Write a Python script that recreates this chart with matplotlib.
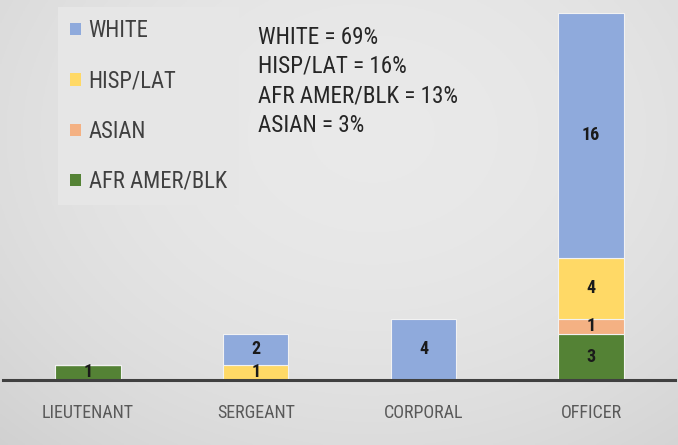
import matplotlib
matplotlib.use("Agg")
import matplotlib.pyplot as plt
from matplotlib import font_manager
import numpy as np

# pick a narrow sans family if one is installed
_names = {f.name for f in font_manager.fontManager.ttflist}
for _font in ("Roboto Condensed", "Liberation Sans Narrow", "Open Sans Condensed", "Liberation Sans"):
    if _font in _names:
        plt.rcParams["font.family"] = [_font, "DejaVu Sans"]
        break

# ── Data ──────────────────────────────────────────────────────────────────────
ranks = ["LIEUTENANT", "SERGEANT", "CORPORAL", "OFFICER"]
afr_amer_blk = [1, 0, 0, 3]
asian = [0, 0, 0, 1]
hisp_lat = [0, 1, 0, 4]
white = [0, 2, 4, 16]

series = [
    ("AFR AMER/BLK", afr_amer_blk, "#548235"),
    ("ASIAN", asian, "#F4B183"),
    ("HISP/LAT", hisp_lat, "#FFD966"),
    ("WHITE", white, "#8FAADC"),
]
share_text = ["WHITE = 69%", "HISP/LAT = 16%", "AFR AMER/BLK = 13%", "ASIAN = 3%"]

# ── Figure ────────────────────────────────────────────────────────────────────
W, H = 678, 445
fig = plt.figure(figsize=(W / 100, H / 100), dpi=100)
fig.patch.set_facecolor("#d8d8d8")

# soft light-grey radial gradient behind everything
bg = fig.add_axes([0, 0, 1, 1], zorder=-10)
yy, xx = np.mgrid[0:1:200j, 0:1:300j]
r2 = ((xx - 0.55) / 0.75) ** 2 + ((yy - 0.3) / 0.9) ** 2
g = np.clip(0.915 - 0.085 * r2, 0.80, 0.93)
bg.imshow(np.dstack([g, g, g]), aspect="auto", extent=(0, 1, 0, 1), origin="upper")
bg.axis("off")

ax = fig.add_axes([3 / W, 65 / H, 672 / W, 380 / H])
ax.set_facecolor("none")

x = np.arange(len(ranks))
bottom = np.zeros(len(ranks))
handles = {}
for name, vals, color in series:
    vals = np.array(vals, dtype=float)
    bars = ax.bar(x, vals, 0.39, bottom=bottom, color=color,
                  edgecolor="#f2f2f2", linewidth=0.8, label=name, zorder=2)
    handles[name] = bars
    for xi, b, v in zip(x, bottom, vals):
        if v > 0:
            ax.text(xi, b + v / 2, f"{int(v)}", ha="center", va="center",
                    fontsize=13, fontweight="bold", color="#1a1a1a", zorder=4)
    bottom += vals

ax.set_xlim(-0.507, 3.5)
ax.set_ylim(0, 24.84)
ax.set_xticks(x)
ax.set_xticklabels(ranks, fontsize=13, color="#595959")
ax.set_yticks([])
ax.tick_params(axis="x", length=0, pad=17)
for s in ("top", "right", "left"):
    ax.spines[s].set_visible(False)
ax.spines["bottom"].set_color("#404040")
ax.spines["bottom"].set_linewidth(2.2)
ax.spines["bottom"].set_zorder(3)

order = ["WHITE", "HISP/LAT", "ASIAN", "AFR AMER/BLK"]
leg = ax.legend([handles[n] for n in order], order,
                loc="upper left", bbox_to_anchor=(58 / W, 1 - 7 / H),
                bbox_transform=fig.transFigure, frameon=True, fancybox=False,
                facecolor="#e6e6e6", edgecolor="none", framealpha=1,
                fontsize=16.3, labelcolor="#404040", handlelength=0.45,
                handleheight=0.45, handletextpad=0.35, labelspacing=1.2,
                borderpad=0.55, borderaxespad=0)
for h in leg.legend_handles:
    h.set_edgecolor("none")

for i, t in enumerate(share_text):
    fig.text(258 / W, 1 - (37 + i * 29.5) / H, t, fontsize=16.7, color="#262626",
             ha="left", va="center")

fig.savefig("out.png", dpi=100, facecolor=fig.get_facecolor())
